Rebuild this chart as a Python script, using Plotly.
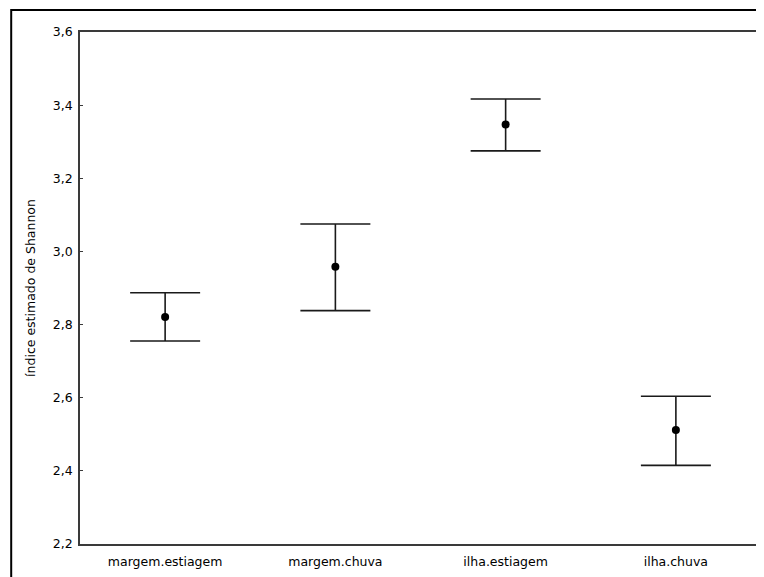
import plotly.graph_objects as go

categories = ["margem.estiagem", "margem.chuva", "ilha.estiagem", "ilha.chuva"]
means = [2.821, 2.958, 3.347, 2.512]
upper = [2.887, 3.075, 3.417, 2.604]
lower = [2.755, 2.838, 3.275, 2.415]
y_ticks = [2.2, 2.4, 2.6, 2.8, 3.0, 3.2, 3.4, 3.6]

err_plus = [u - m for u, m in zip(upper, means)]
err_minus = [m - l for m, l in zip(means, lower)]

FONT = "DejaVu Sans"
# page body has an 8px margin; figure sized/offset to compensate
W, H = 756, 569
ML, MR, MT, MB = 72, 1, 24, 33

fig = go.Figure()
fig.add_trace(go.Scatter(
    x=categories, y=means, mode="markers",
    marker=dict(color="black", size=8),
    error_y=dict(type="data", symmetric=False, array=err_plus, arrayminus=err_minus,
                 color="#1a1a1a", thickness=1.6, width=35),
    showlegend=False,
))

pw = W - ML - MR
ph = H - MT - MB
fig.add_shape(type="rect", xref="paper", yref="paper",
              x0=(3 - ML) / pw, x1=(W + 20 - ML) / pw,
              y0=-(MB + 20) / ph, y1=1 + (MT - 2) / ph,
              line=dict(color="black", width=2), fillcolor="rgba(0,0,0,0)", layer="below")

fig.update_layout(
    width=W, height=H,
    margin=dict(l=ML, r=MR, t=MT, b=MB),
    paper_bgcolor="white", plot_bgcolor="white",
    separators=",.",
    font=dict(family=FONT, size=12.5, color="black"),
    xaxis=dict(
        type="category", range=[-0.5, 3.5],
        showline=True, mirror=True, linecolor="#3a3a3a", linewidth=1.6,
        showgrid=False, zeroline=False, ticks="",
        ticklabelstandoff=5,
        tickfont=dict(family=FONT, size=12.5, color="black"),
    ),
    yaxis=dict(
        range=[2.2, 3.6], tickvals=y_ticks, tickformat=".1f",
        showline=True, mirror="ticks", linecolor="#3a3a3a", linewidth=1.6,
        ticks="inside", ticklen=3, tickcolor="#3a3a3a", tickwidth=1.2,
        showgrid=False, zeroline=False,
        ticklabelstandoff=3,
        tickfont=dict(family=FONT, size=12.5, color="black"),
        title=dict(text="índice estimado de Shannon", standoff=14,
                   font=dict(family=FONT, size=12.5, color="black")),
    ),
)

fig.write_html("out.html")
